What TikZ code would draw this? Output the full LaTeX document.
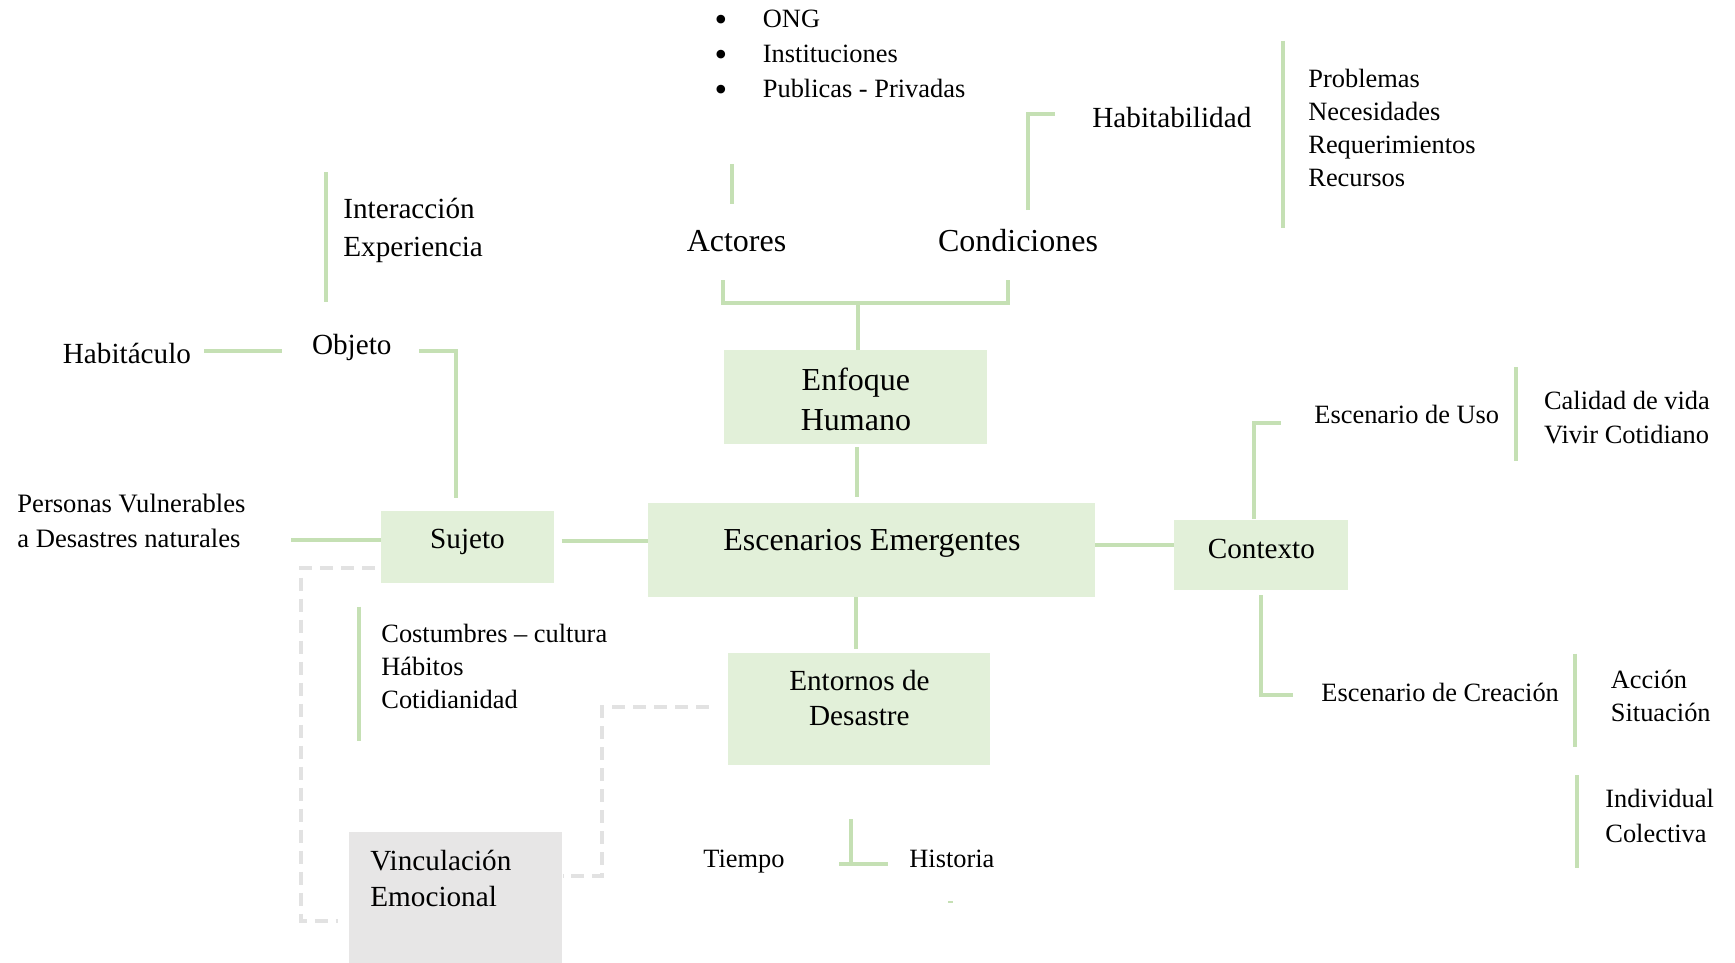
\documentclass[tikz,border=0pt]{standalone}
\usepackage{fontspec}
\setmainfont{Liberation Serif}
\definecolor{gline}{RGB}{197,224,180}
\definecolor{gfill}{RGB}{226,240,217}
\definecolor{gdash}{RGB}{226,226,226}
\definecolor{grayfill}{RGB}{231,230,230}
\newcommand{\lns}[2]{\begin{tabular}[t]{@{}#1@{}}#2\end{tabular}}
\newcommand{\bulletmark}{\llap{\makebox[0pt][c]{\smash{\raisebox{-2pt}{\fontsize{18}{18}\selectfont •}}}\hspace{21pt}}}
\begin{document}
\begin{tikzpicture}[x=0.5pt,y=-0.5pt,
  gl/.style={draw=gline,line width=2pt},
  dl/.style={draw=gdash,line width=2pt,dash pattern=on 6.5pt off 4pt},
  box/.style={fill=gfill,draw=none,inner sep=0pt,anchor=north west},
  gbox/.style={fill=grayfill,draw=none,inner sep=0pt,anchor=north west},
  tx/.style={inner sep=0pt,anchor=base west},
  tc/.style={inner sep=0pt,anchor=base},
  big/.style={font=\fontsize{16}{20}\selectfont},
  mid/.style={font=\fontsize{14.6}{17.5}\selectfont},
  sml/.style={font=\fontsize{13.2}{16.7}\selectfont}]
\useasboundingbox (0,0) rectangle (1735,963);

% boxes
\node[box,big,minimum width=131.5pt,minimum height=47pt,text height=20pt,text depth=27pt] (enf) at (724,350) {\lns{c}{Enfoque\\Humano}};
\node[box,big,minimum width=223.5pt,minimum height=47pt,text height=23.5pt,text depth=23.5pt] (esc) at (648,503) {Escenarios Emergentes};
\node[box,mid,minimum width=86.5pt,minimum height=36pt,text height=18.5pt,text depth=17.5pt] (suj) at (380.6,511) {Sujeto};
\node[box,mid,minimum width=87pt,minimum height=35pt,text height=18.85pt,text depth=16.15pt] (ctx) at (1174,520) {Contexto};
\node[box,mid,minimum width=131pt,minimum height=56pt,text height=18.5pt,text depth=37.5pt] (ent) at (728,653) {\lns{c}{Entornos de\\Desastre}};
\node[gbox,font=\fontsize{14.6}{18}\selectfont,minimum width=106.75pt,minimum height=65.5pt,text height=19pt,text depth=46.5pt] (vin) at (348.5,832) {\makebox[106.75pt][l]{\hspace{10.75pt}\lns{l}{Vinculación\\Emocional}}};

% texts
\node[tx,font=\fontsize{13.2}{17.6}\selectfont] (bul) at (762.5,27.5) {\lns{l}{\bulletmark ONG\\\bulletmark Instituciones\\\bulletmark Publicas - Privadas}};
\node[tx,mid] (hab) at (1092,127.5) {Habitabilidad};
\node[tx,font=\fontsize{13.2}{16.5}\selectfont] (prob) at (1308,87.5) {\lns{l}{Problemas\\Necesidades\\Requerimientos\\Recursos}};
\node[tc,big] (act) at (736.5,251) {Actores};
\node[tc,big] (cond) at (1018,251) {Condiciones};
\node[tx,font=\fontsize{14.6}{18.5}\selectfont] (inter) at (343,219) {\lns{l}{Interacción\\Experiencia}};
\node[tx,mid] (habc) at (62.5,363) {Habitáculo};
\node[tx,mid] (obj) at (311.6,354) {Objeto};
\node[tx,font=\fontsize{13.3}{17.5}\selectfont] (pers) at (17,512.5) {\lns{l}{Personas Vulnerables\\a Desastres naturales}};
\node[tx,sml] (euso) at (1314,423) {Escenario de Uso};
\node[tx,font=\fontsize{13.2}{17}\selectfont] (cal) at (1543.7,409) {\lns{l}{Calidad de vida\\Vivir Cotidiano}};
\node[tx,sml] (ecre) at (1321,701) {Escenario de Creación};
\node[tx,font=\fontsize{13.2}{16.75}\selectfont] (acc) at (1610.5,688) {\lns{l}{Acción\\Situación}};
\node[tx,font=\fontsize{13.2}{17.2}\selectfont] (ind) at (1605,807.7) {\lns{l}{Individual\\Colectiva}};
\node[tx,font=\fontsize{13.2}{16.7}\selectfont] (cost) at (381,642) {\lns{l}{Costumbres – cultura\\Hábitos\\Cotidianidad}};
\node[tx,sml] (tie) at (703,867.5) {Tiempo};
\node[tx,sml] (his) at (909,867.5) {Historia};

% coordinates
\coordinate (i1) at (326,172); \coordinate (i2) at (326,302);
\coordinate (h1) at (204,351); \coordinate (h2) at (282,351);
\coordinate (o1) at (419,351); \coordinate (o2) at (456,351); \coordinate (o3) at (456,498);
\coordinate (p1) at (291,539.5);
\coordinate (s1) at (561.6,540.5);
\coordinate (c6) at (1095,545);
\coordinate (e1) at (857,447); \coordinate (e2) at (857,497);
\coordinate (st) at (858,303);
\coordinate (b1) at (723.4,280); \coordinate (b2) at (723.4,303); \coordinate (b3) at (1007.6,303); \coordinate (b4) at (1007.6,280);
\coordinate (a1) at (731.5,164); \coordinate (a2) at (731.5,204);
\coordinate (k1) at (1028,210); \coordinate (k2) at (1028,114); \coordinate (k3) at (1055,114);
\coordinate (r1) at (1282.5,40.7); \coordinate (r2) at (1282.5,228);
\coordinate (d1) at (856,597); \coordinate (d2) at (856,648.7);
\coordinate (u1) at (1253.7,519); \coordinate (u2) at (1253.7,423); \coordinate (u3) at (1280.6,423);
\coordinate (q1) at (1516,367); \coordinate (q2) at (1516,461);
\coordinate (w1) at (1260.8,595); \coordinate (w2) at (1260.8,695); \coordinate (w3) at (1292.5,695);
\coordinate (x1) at (1575.4,653.5); \coordinate (x2) at (1575.4,746.8);
\coordinate (y1) at (1577,775); \coordinate (y2) at (1577,868);
\coordinate (z1) at (359,606.7); \coordinate (z2) at (359,740.7);
\coordinate (t1) at (851,819); \coordinate (t2) at (851,864); \coordinate (t3) at (839,864); \coordinate (t4) at (888,864);
\coordinate (m1) at (375,567.5); \coordinate (m2) at (301,567.5); \coordinate (m3) at (301,921); \coordinate (m4) at (338,921);
\coordinate (n1) at (709,707); \coordinate (n2) at (602,707); \coordinate (n3) at (602,876);
\coordinate (dot1) at (948,902); \coordinate (dot2) at (953,902);

% green connectors
\draw[gl] (i1) -- (i2);
\draw[gl] (h1) -- (h2);
\draw[gl] (o1) -- (o2) -- (o3);
\draw[gl] (p1) -- (p1 -| suj.west);
\draw[gl] (s1) -- (s1 -| esc.west);
\draw[gl] (c6) -- (c6 -| ctx.west);
\draw[gl] (e1) -- (e2);
\draw[gl] (st) -- (st |- enf.north);
\draw[gl] (b1) -- (b2) -- (b3) -- (b4);
\draw[gl] (a1) -- (a2);
\draw[gl] (k1) -- (k2) -- (k3);
\draw[gl] (r1) -- (r2);
\draw[gl] (d1) -- (d2);
\draw[gl] (u1) -- (u2) -- (u3);
\draw[gl] (q1) -- (q2);
\draw[gl] (w1) -- (w2) -- (w3);
\draw[gl] (x1) -- (x2);
\draw[gl] (y1) -- (y2);
\draw[gl] (z1) -- (z2);
\draw[gl] (t1) -- (t2);
\draw[gl] (t3) -- (t4);
\draw[draw=gline,line width=0.6pt] (dot1) -- (dot2);

% dashed gray connectors
\draw[dl] (m1) -- (m2) -- (m3) -- (m4);
\draw[dl] (n1) -- (n2) -- (n3) -- (n3 -| vin.east);
\end{tikzpicture}
\end{document}
